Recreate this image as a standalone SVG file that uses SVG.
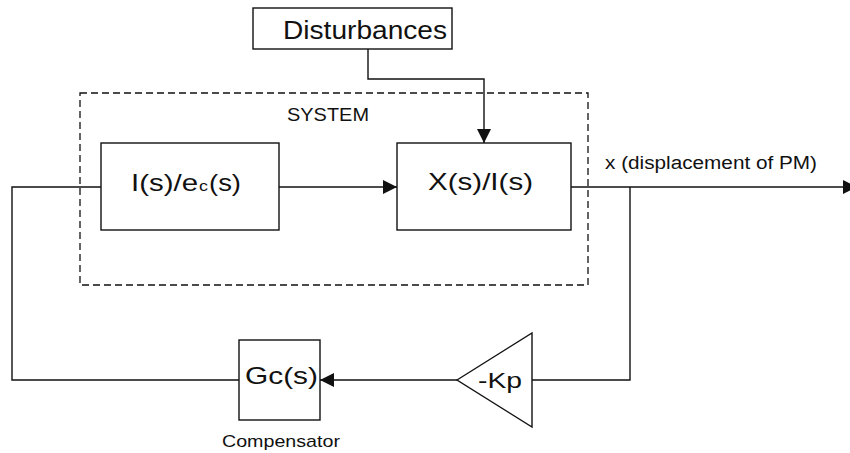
<svg xmlns="http://www.w3.org/2000/svg" width="850" height="453" viewBox="0 0 850 453">
  <style>
    .blk { fill: #fff; stroke: #111; stroke-width: 1.4; }
    .wire { fill: none; stroke: #111; stroke-width: 1.4; }
    .dash { fill: none; stroke: #111; stroke-width: 1.3; stroke-dasharray: 7 4; }
    text { font-family: "Liberation Sans", Arial, sans-serif; fill: #111; }
  </style>
  <defs>
    <marker id="head" markerUnits="userSpaceOnUse" markerWidth="15" markerHeight="15" refX="14" refY="7" orient="auto">
      <path d="M0,0 L14,7 L0,14 Z" fill="#111"/>
    </marker>
  </defs>

  <!-- plant boundary -->
  <g id="system">
    <rect class="dash" x="80" y="93" width="508" height="192"/>
    <text x="287" y="121" font-size="18" textLength="82" lengthAdjust="spacingAndGlyphs">SYSTEM</text>
  </g>

  <!-- signal wiring -->
  <g id="connectors">
    <polyline class="wire" points="368,49 368,79 484,79 484,143" marker-end="url(#head)"/>
    <line class="wire" x1="279" y1="187" x2="397" y2="187" marker-end="url(#head)"/>
    <line class="wire" x1="571" y1="187" x2="857" y2="187" marker-end="url(#head)"/>
    <polyline class="wire" points="630,187 630,380 532,380"/>
    <line class="wire" x1="457" y1="380" x2="320" y2="380" marker-end="url(#head)"/>
    <polyline class="wire" points="239,380 12,380 12,187 101,187"/>
  </g>

  <g id="disturbances">
    <rect class="blk" x="253" y="8" width="199" height="41"/>
    <text x="283" y="39" font-size="25" textLength="164" lengthAdjust="spacingAndGlyphs">Disturbances</text>
  </g>

  <g id="current-block">
    <rect class="blk" x="101" y="143" width="178" height="87"/>
    <text x="131" y="191" font-size="24" textLength="67" lengthAdjust="spacingAndGlyphs">I(s)/e</text>
    <text x="199" y="191" font-size="14" textLength="9" lengthAdjust="spacingAndGlyphs">c</text>
    <text x="209" y="191" font-size="24" textLength="32" lengthAdjust="spacingAndGlyphs">(s)</text>
  </g>

  <g id="displacement-block">
    <rect class="blk" x="397" y="143" width="174" height="87"/>
    <text x="428" y="190" font-size="24" textLength="105" lengthAdjust="spacingAndGlyphs">X(s)/I(s)</text>
  </g>

  <g id="output-label">
    <text x="605" y="169" font-size="18" textLength="212" lengthAdjust="spacingAndGlyphs">x (displacement of PM)</text>
  </g>

  <g id="gain">
    <polygon class="blk" points="457,380 532,333 532,427"/>
    <text x="478" y="388" font-size="22" textLength="44" lengthAdjust="spacingAndGlyphs">-Kp</text>
  </g>

  <g id="compensator">
    <rect class="blk" x="239" y="340" width="81" height="80"/>
    <text x="245" y="384" font-size="24" textLength="73" lengthAdjust="spacingAndGlyphs">Gc(s)</text>
    <text x="222" y="447" font-size="17" textLength="118" lengthAdjust="spacingAndGlyphs">Compensator</text>
  </g>
</svg>
